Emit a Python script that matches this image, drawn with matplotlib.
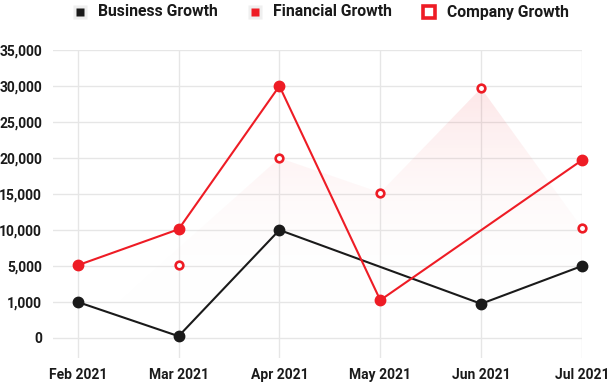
import numpy as np
import matplotlib
matplotlib.use("Agg")
import matplotlib.pyplot as plt
from matplotlib.colors import LinearSegmentedColormap

plt.rcParams['font.family'] = ['Roboto', 'DejaVu Sans']
plt.rcParams['font.weight'] = 'bold'

months = ["Feb 2021", "Mar 2021", "Apr 2021", "May 2021", "Jun 2021", "Jul 2021"]
y_ticks = [0, 1000, 5000, 10000, 15000, 20000, 25000, 30000, 35000]

business = [1000, 50, 10000, None, 950, 5000]
financial = [5100, 10100, 30000, 1200, None, 19700]
company = [None, 5200, 20000, 15200, 29700, 10300]
company_area = [0, None, 20000, 15200, 29700, 10300]

RED = "#ee1c25"
BLACK = "#1a1a1a"
GRID = "#e6e6e6"

# the value axis is not linear: every tick gets the same spacing
scale_vals = [-1000] + y_ticks
scale_pos = list(range(-1, len(y_ticks)))


def fwd(v):
    return np.interp(v, scale_vals, scale_pos)


def inv(p):
    return np.interp(p, scale_pos, scale_vals)


def present(values):
    xs = [i for i, v in enumerate(values) if v is not None]
    ys = [values[i] for i in xs]
    return np.array(xs, dtype=float), np.array(ys, dtype=float)


W, H = 608, 382
fig = plt.figure(figsize=(W / 100, H / 100), dpi=100)
ax = fig.add_axes([53 / W, 1 - 358 / H, (582 - 53) / W, (358 - 50) / H])
ax.set_yscale('function', functions=(fwd, inv))

for s in ax.spines.values():
    s.set_visible(False)
ax.set_yticks(y_ticks)
ax.set_yticklabels([f"{t:,}" for t in y_ticks])
ax.set_xticks(range(len(months)))
ax.set_xticklabels(months)
ax.tick_params(length=0, labelsize=10, labelcolor=BLACK)
ax.tick_params(axis='y', pad=8)
ax.tick_params(axis='x', pad=7)
ax.grid(True, color=GRID, linewidth=1)
ax.set_axisbelow(True)
ax.yaxis.set_minor_locator(matplotlib.ticker.NullLocator())

# gradient area for company growth
ax_x, ax_y = present(company_area)
poly = ax.fill_between(ax_x, 0, ax_y, color='none', linewidth=0)
cmap = LinearSegmentedColormap.from_list(
    "pinkfade", [(1, 1, 1, 0.0), (0.93, 0.11, 0.145, 0.11)])
grad = np.linspace(0, 1, 256).reshape(-1, 1)
im = ax.imshow(grad, cmap=cmap, aspect='auto', origin='lower',
               extent=[-0.245, 5, 0, 30000], zorder=1, interpolation='bicubic')
im.set_clip_path(poly.get_paths()[0], transform=ax.transData)
ax.set_xlim(-0.245, 5)
ax.set_ylim(inv(-0.556), 35000)

bx, by = present(business)
ax.plot(bx, by, color=BLACK, lw=1.5, marker='o', ms=7.5, zorder=4, clip_on=False)
fx, fy = present(financial)
ax.plot(fx, fy, color=RED, lw=1.5, marker='o', ms=7.5, zorder=5, clip_on=False)
cx, cy = present(company)
ax.plot(cx, cy, ls='none', marker='o', ms=5.5, mfc='white', mec=RED, mew=1.9,
        zorder=6, clip_on=False)

# legend drawn by hand at the top
lg = fig.add_axes([0, 0, 1, 1])
lg.set_xlim(0, W)
lg.set_ylim(H, 0)
lg.axis('off')
legend_items = [("Business Growth", 80, BLACK, 'filled'),
                ("Financial Growth", 255, RED, 'filled'),
                ("Company Growth", 429, RED, 'open')]
for label, x0, col, kind in legend_items:
    if kind == 'filled':
        lg.plot(x0, 12, marker='s', ms=10, color='#efefef', mec='none')
        lg.plot(x0, 12, marker='s', ms=5.5, color=col, mec='none')
    else:
        lg.plot(x0, 12, marker='s', ms=9, mfc='white', mec=col, mew=2.6)
    lg.text(x0 + 18, 12, label, fontsize=11.3, color=BLACK, va='center', ha='left')

fig.savefig("out.png", dpi=100)
